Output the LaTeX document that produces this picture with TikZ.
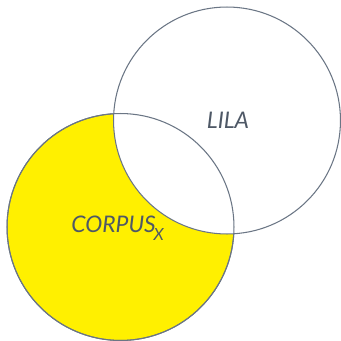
\documentclass[tikz,border=0pt]{standalone}
\usepackage{fontspec}
\setmainfont{Lato}
\usepackage{xcolor}
\usepackage{tikz}
\usetikzlibrary{positioning}

\definecolor{rand}{HTML}{6B7685}
\definecolor{tulisan}{HTML}{4E5866}
\definecolor{kuning}{HTML}{FFF000}

\begin{document}
\begin{tikzpicture}[
    x=0.02cm, y=-0.02cm,
    lingkaran/.style={circle, draw=rand, line width=0.6pt, minimum size=4.54cm,
                      inner sep=0pt, font=\fontsize{13}{15}\selectfont\itshape, text=tulisan},
    label teks/.style={font=\fontsize{13}{15}\selectfont\itshape, text=tulisan, inner sep=0pt}
  ]
    \useasboundingbox (0,0) rectangle (341,341);
    \node[lingkaran, fill=kuning] (corpus) at (120.5,227) {};
    \node[lingkaran, fill=white] (lila) at (227,120.5) {};
    \node[lingkaran] (corpusrand) at (120.5,227) {};
    % teks
    \node[label teks] (lilalabel) at (228,120) {LILA};
    \node[label teks, anchor=base west] (corpuslabel) at (71,232)
      {CORPUS\kern-1.2pt\raisebox{-5pt}{\fontsize{9.5}{11}\selectfont X}};
  \end{tikzpicture}
\end{document}
